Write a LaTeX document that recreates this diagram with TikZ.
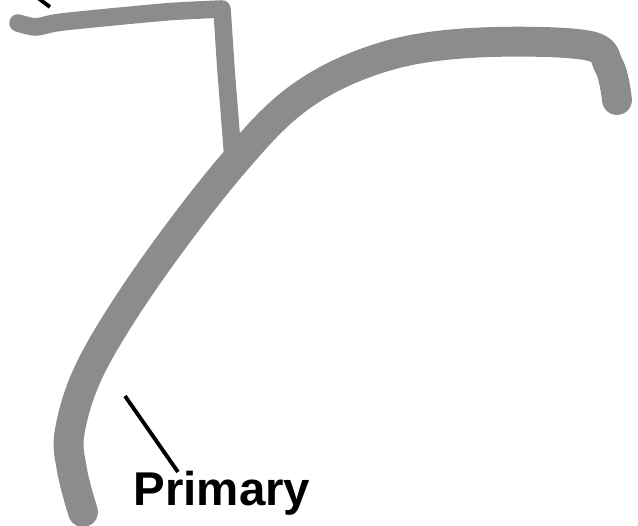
\documentclass[tikz,border=0pt]{standalone}
\usepackage{fontspec}
\newfontfamily\labelfont{Liberation Sans}
\usetikzlibrary{positioning, calc}
\definecolor{vesselgray}{HTML}{8C8C8C}

\begin{document}
\begin{tikzpicture}[x=0.02cm, y=-0.02cm,
          vessel/.style={draw=vesselgray, line width=17pt, line cap=round, line join=round},
          branch/.style={draw=vesselgray, line width=10pt, line cap=round, line join=round},
          leader/.style={draw=black, line width=2.2pt},
          lbl/.style={font=\labelfont\bfseries\fontsize{27}{30}\selectfont, inner sep=0pt}]
        \useasboundingbox (0,0) rectangle (638,526);
        % main vessel
        \draw[vessel] plot[smooth, tension=0.6] coordinates {(83,512) (72,470) (70,430) (92,365) (150,272) (232,165) (300,97) (380,58) (470,43) (585,45) (609,66) (617,100)};
        % side branch
        \draw[branch] plot[smooth, tension=0.4] coordinates {(18,23) (36,27) (62,22) (165,12) (222,9)} -- (226,70) -- (233,158);
        % label
        \node[lbl, anchor=base] (primary) at (222,505) {Primary};
        \coordinate (tipA) at (125,396);
        \coordinate (tipB) at (178,472);
        \draw[leader] (tipA) -- (tipB);
        \coordinate (topA) at (38,-2);
        \coordinate (topB) at (50,7);
        \draw[leader] (topA) -- (topB);
      \end{tikzpicture}
\end{document}
